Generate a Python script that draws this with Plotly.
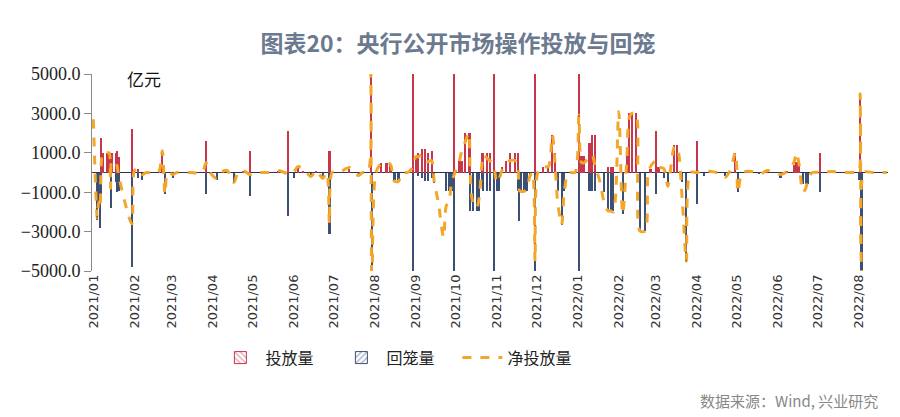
import plotly.graph_objects as go

# ---- data (亿元) ----
dates = [
    "2021-01-01","2021-01-04","2021-01-05","2021-01-06","2021-01-07","2021-01-08","2021-01-11","2021-01-12",
    "2021-01-13","2021-01-14","2021-01-15","2021-01-18","2021-01-19","2021-01-20","2021-01-30","2021-02-01",
    "2021-02-04","2021-02-07","2021-02-10","2021-02-19","2021-02-22","2021-02-24","2021-02-26","2021-03-02",
    "2021-03-05","2021-03-15","2021-03-24","2021-03-27","2021-03-30","2021-04-04","2021-04-07","2021-04-12",
    "2021-04-17","2021-04-20","2021-04-24","2021-04-29","2021-05-03","2021-05-12","2021-05-20","2021-05-25",
    "2021-05-28","2021-06-01","2021-06-04","2021-06-08","2021-06-14","2021-06-18","2021-06-23","2021-06-26",
    "2021-06-28","2021-06-30","2021-07-05","2021-07-13","2021-07-16","2021-07-20","2021-07-23","2021-07-27",
    "2021-07-29","2021-07-30","2021-08-02","2021-08-06","2021-08-10","2021-08-13","2021-08-16","2021-08-19",
    "2021-08-22","2021-08-26","2021-08-30","2021-09-01","2021-09-03","2021-09-06","2021-09-08","2021-09-10",
    "2021-09-13","2021-09-15","2021-09-18","2021-09-22","2021-09-24","2021-09-26","2021-09-28","2021-09-30",
    "2021-10-04","2021-10-06","2021-10-08","2021-10-11","2021-10-12","2021-10-14","2021-10-17","2021-10-19",
    "2021-10-21","2021-10-22","2021-10-25","2021-10-27","2021-10-30","2021-11-01","2021-11-03","2021-11-05",
    "2021-11-08","2021-11-11","2021-11-15","2021-11-17","2021-11-18","2021-11-19","2021-11-22","2021-11-24",
    "2021-11-26","2021-11-28","2021-11-30","2021-12-02","2021-12-06","2021-12-10","2021-12-13","2021-12-15",
    "2021-12-17","2021-12-20","2021-12-22","2021-12-25","2021-12-30","2022-01-02","2022-01-04","2022-01-06",
    "2022-01-10","2022-01-12","2022-01-14","2022-01-18","2022-01-21","2022-01-24","2022-01-26","2022-01-28",
    "2022-02-01","2022-02-04","2022-02-07","2022-02-09","2022-02-11","2022-02-14","2022-02-17","2022-02-21",
    "2022-02-23","2022-02-25","2022-03-01","2022-03-03","2022-03-07","2022-03-10","2022-03-15","2022-03-17",
    "2022-03-21","2022-03-24","2022-03-27","2022-04-01","2022-04-06","2022-04-12","2022-04-18","2022-04-22",
    "2022-04-26","2022-04-30","2022-05-02","2022-05-05","2022-05-12","2022-05-18","2022-05-24","2022-05-30",
    "2022-06-03","2022-06-08","2022-06-13","2022-06-15","2022-06-17","2022-06-20","2022-06-22","2022-06-24",
    "2022-06-27","2022-07-03","2022-07-12","2022-07-20","2022-07-30","2022-08-01","2022-08-02","2022-08-03",
    "2022-08-05","2022-08-12","2022-08-22",
]
injection = [
    0, 0, 0, 0, 1750, 1000, 1000, 1000,
    1000, 1000, 1000, 1000, 1100, 800, 2200, 0,
    200, 0, 0, 0, 1100, 0, 0, 0,
    0, 100, 0, 1600, 0, 0, 0, 100,
    0, 0, 100, 1100, 0, 0, 100, 0,
    2100, 0, 300, 100, 0, 100, 0, 0,
    1100, 0, 0, 200, 0, 0, 0, 0,
    6000, 0, 0, 500, 500, 400, 0, 0,
    0, 0, 6000, 800, 1000, 1200, 1200, 1000,
    1100, 0, 0, 0, 0, 0, 0, 6000,
    600, 600, 2000, 2000, 2000, 0, 0, 0,
    1000, 1000, 1000, 1000, 6000, 0, 0, 300,
    600, 1000, 1000, 1000, 0, 0, 0, 0,
    0, 0, 6000, 0, 300, 300, 1900, 1000,
    0, 0, 0, 0, 0, 6000, 850, 850,
    1500, 1900, 1900, 0, 0, 300, 300, 300,
    0, 0, 1000, 3000, 3000, 3000, 0, 0,
    0, 200, 2100, 300, 0, 0, 1400, 1400,
    0, 0, 0, 1600, 0, 100, 0, 0,
    100, 1000, 0, 0, 100, 0, 100, 0,
    0, 100, 400, 550, 550, 0, 0, 0,
    0, 1000, 0, 0, 0, 0, 4000, 0,
    0, 0, 0,
]
withdrawal = [
    0, -2400, -1500, -2800, -1200, 0, 0, 0,
    0, -1800, 0, -500, -1000, -950, -4800, 0,
    -300, -400, 0, 0, 0, -1100, 0, -300,
    0, -100, 0, -1100, 0, -400, 0, 0,
    -500, 0, 0, -1200, 0, 0, 0, 0,
    -2200, -300, 0, 0, -200, 0, -300, 0,
    -3100, 0, 0, 0, 0, -100, 0, 0,
    0, -6000, 0, 0, 0, 0, -400, -400,
    0, 0, -6000, 0, -200, -300, -450, -450,
    -300, -550, 0, 0, -950, -950, -950, -6000,
    0, 0, 0, 0, -1950, -1950, -1950, -1950,
    -500, -950, -950, -950, -6000, -950, -950, 0,
    0, 0, 0, -950, -2470, -950, -950, -950,
    -300, 0, -6000, 0, 0, 0, 0, 0,
    -950, -2650, -950, 0, 0, -6000, 0, 0,
    -950, -950, -950, 0, -1000, -1950, -1950, -1950,
    0, -2100, 0, 0, 0, 0, -2970, -2970,
    0, 0, -1100, 0, -300, -700, 0, 0,
    -500, -4500, 0, -1600, -200, 0, 0, -200,
    0, 0, -1000, 0, 0, -100, 0, 0,
    -300, 0, 0, 0, 0, -600, -600, -600,
    0, -1000, 0, 0, 0, -400, 0, -5200,
    0, 0, 0,
]
net = [
    2700, -2300, -1500, -1800, 500, 1000, 1000, 1000,
    1000, -800, 600, 500, 300, -150, -2600, 100,
    200, -100, 0, 0, 1100, -1100, 0, -100,
    0, 0, 0, 500, 0, -300, 0, 100,
    -500, 0, 100, -100, 0, 0, 100, 0,
    -100, 0, 300, 200, -200, 100, -300, 0,
    -2600, 0, 0, 250, 0, -150, 0, 0,
    6000, -6000, 0, 450, 500, 400, -450, -450,
    0, 0, 300, 800, 800, 900, 700, 550,
    600, -500, -1500, -3300, -1700, -1500, -500, -100,
    600, 1200, 1500, 2000, 0, -1500, -1800, -1200,
    500, 900, 700, 600, 300, -500, -300, 100,
    400, 600, 600, 300, -900, -950, -950, -800,
    -200, 0, -4500, 0, 300, 300, 1900, 500,
    -1500, -2650, -1000, 0, 0, 2900, 500, 500,
    800, 900, 400, -500, -1500, -1950, -1950, -2000,
    3100, -2100, 500, 2800, 3000, 3000, -2970, -2970,
    -200, 300, 600, 300, 200, -700, 1300, 1300,
    -1500, -4500, 0, 0, 100, 50, -50, -250,
    100, 1000, -1000, 0, 50, -100, 100, 0,
    -100, 50, 500, 1000, 400, -1000, -800, -300,
    0, 0, 50, 0, 0, 0, 4000, -5200,
    0, 0, 0,
]

y_ticks = [-5000, -3000, -1000, 1000, 3000, 5000]

RED = "#c8364c"
BLUE = "#3c5075"
ORANGE = "#f3a62a"
DAY_MS = 86400000

fig = go.Figure()
fig.add_trace(go.Bar(x=dates, y=injection, width=[1.6 * DAY_MS] * len(dates),
                     marker=dict(color=RED, line=dict(width=0)), showlegend=False))
fig.add_trace(go.Bar(x=dates, y=withdrawal, width=[1.6 * DAY_MS] * len(dates),
                     marker=dict(color=BLUE, line=dict(width=0)), showlegend=False))
fig.add_trace(go.Scatter(x=dates, y=net, mode="lines", showlegend=False,
                         line=dict(color=ORANGE, width=3, dash="dash", shape="spline", smoothing=0.8)))

# legend entries
fig.add_trace(go.Bar(x=[None], y=[None], name="投放量",
                     marker=dict(color="white", line=dict(color=RED, width=1),
                                 pattern=dict(shape="\\", fgcolor=RED, bgcolor="white", size=5, solidity=0.3))))
fig.add_trace(go.Bar(x=[None], y=[None], name="回笼量",
                     marker=dict(color="white", line=dict(color=BLUE, width=1),
                                 pattern=dict(shape="/", fgcolor=BLUE, bgcolor="white", size=5, solidity=0.3))))
fig.add_trace(go.Scatter(x=[None], y=[None], name="净投放量", mode="lines",
                         line=dict(color=ORANGE, width=3, dash="dash")))

fig.update_layout(
    width=900, height=417,
    margin=dict(l=84, r=20, t=66, b=154),
    paper_bgcolor="white", plot_bgcolor="white",
    barmode="relative", bargap=0,
    title=dict(text="图表20：央行公开市场操作投放与回笼", x=0.5, xanchor="center",
               y=1 - 36 / 417, yanchor="middle",
               font=dict(family="Noto Sans CJK SC", size=23, color="#6b7a8f", weight="bold")),
    legend=dict(orientation="h", x=0.155, xanchor="left", y=-0.44, yanchor="middle",
                font=dict(family="Noto Sans CJK SC", size=16, color="#222222"),
                itemwidth=40, traceorder="normal", entrywidth=66, entrywidthmode="pixels"),
    xaxis=dict(type="date", range=["2020-12-31", "2022-08-23"], automargin=False,
               tickformat="%Y/%m", dtick="M1", tick0="2021-01-01", tickangle=-90,
               showgrid=False, showline=False, zeroline=False, ticks="",
               tickfont=dict(family="DejaVu Sans", size=13, color="#333333")),
    yaxis=dict(range=[-5000, 5000], tickvals=y_ticks, tickformat=".1f", automargin=False,
               showgrid=False, showline=True, linecolor="#8a8a8a", linewidth=1,
               ticks="outside", ticklen=7, tickcolor="#8a8a8a",
               zeroline=True, zerolinecolor="#2b3550", zerolinewidth=1,
               tickfont=dict(family="Liberation Serif", size=18, color="#222222")),
    annotations=[
        dict(text="亿元", xref="paper", yref="paper", x=0.065, y=0.975,
             xanchor="center", yanchor="middle", showarrow=False,
             font=dict(family="Noto Sans CJK SC", size=17, color="#111111")),
        dict(text="数据来源：Wind, 兴业研究", xref="paper", yref="paper", x=0.99, y=-0.655,
             xanchor="right", yanchor="middle", showarrow=False,
             font=dict(family="Noto Sans CJK SC", size=15, color="#888888")),
    ],
)

fig.write_html("out.html")
